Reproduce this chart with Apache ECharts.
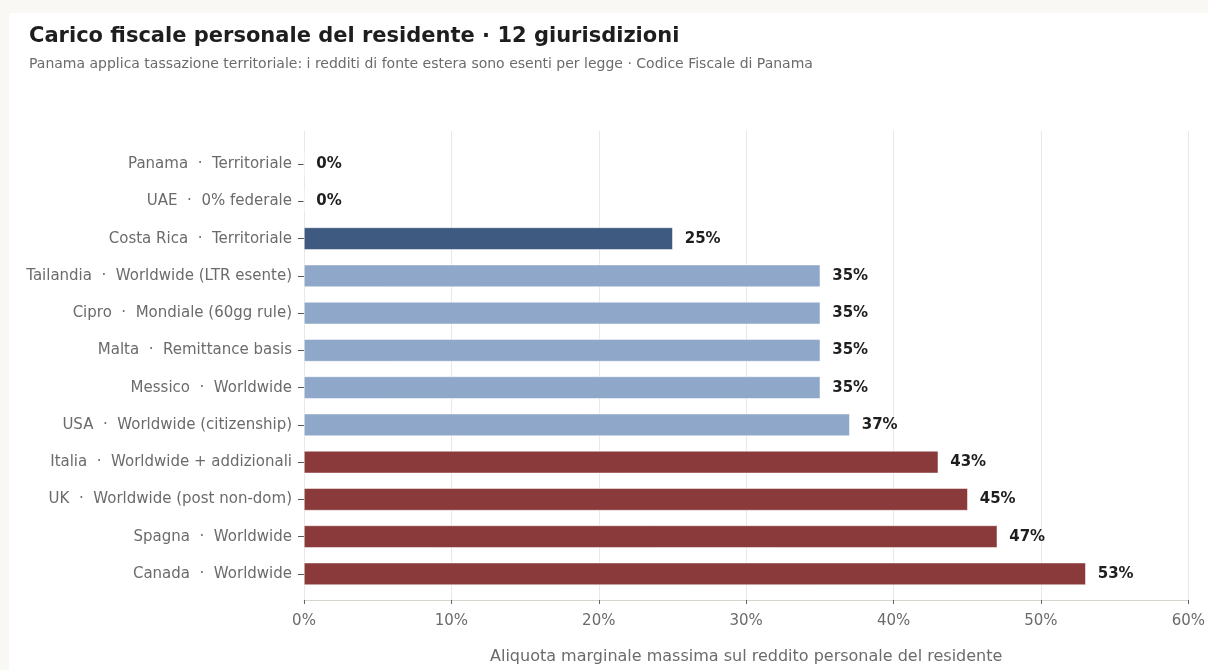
<!DOCTYPE html>
<html>
<head>
<meta charset="utf-8">
<script src="https://cdn.jsdelivr.net/npm/echarts@6/dist/echarts.min.js"></script>
<style>
  html, body { margin: 0; padding: 0; background: #faf8f4; }
  #card { position: absolute; left: 9px; top: 13px; right: 0; bottom: 0; background: #ffffff; }
  #chart { position: absolute; left: 0; top: 0; width: 1208px; height: 670px; }
</style>
</head>
<body>
<div id="card"></div>
<div id="chart"></div>
<script>
// Jurisdictions (top to bottom) and top marginal personal income tax rate (%)
const categories = [
  'Panama  ·  Territoriale',
  'UAE  ·  0% federale',
  'Costa Rica  ·  Territoriale',
  'Tailandia  ·  Worldwide (LTR esente)',
  'Cipro  ·  Mondiale (60gg rule)',
  'Malta  ·  Remittance basis',
  'Messico  ·  Worldwide',
  'USA  ·  Worldwide (citizenship)',
  'Italia  ·  Worldwide + addizionali',
  'UK  ·  Worldwide (post non-dom)',
  'Spagna  ·  Worldwide',
  'Canada  ·  Worldwide'
];
const rates = [0, 0, 25, 35, 35, 35, 35, 37, 43, 45, 47, 53];
// Regime group of each jurisdiction
const groups = ['territorial', 'territorial', 'territorial', 'mid', 'mid', 'mid', 'mid', 'mid', 'high', 'high', 'high', 'high'];
const xTicks = [0, 10, 20, 30, 40, 50, 60];

const groupColors = { territorial: '#3e5a80', mid: '#8fa8c9', high: '#8b3a3b' };
const FONT = 'DejaVu Sans';
const GRID_LEFT = 304, GRID_RIGHT = 19;

const chart = echarts.init(document.getElementById('chart'), null, { renderer: 'canvas' });

chart.setOption({
  backgroundColor: 'transparent',
  animation: false,
  textStyle: { fontFamily: FONT },
  title: [
    {
      text: 'Carico fiscale personale del residente · 12 giurisdizioni',
      left: 24, top: 21,
      textStyle: { fontFamily: FONT, fontSize: 21, fontWeight: 'bold', color: '#1e1e1e' }
    },
    {
      text: 'Panama applica tassazione territoriale: i redditi di fonte estera sono esenti per legge · Codice Fiscale di Panama',
      left: 24, top: 52,
      textStyle: { fontFamily: FONT, fontSize: 14, fontWeight: 'normal', color: '#6b6b6b' }
    }
  ],
  grid: [
    // frame with the value axis and the vertical grid lines
    { left: GRID_LEFT, right: GRID_RIGHT, top: 131, bottom: 64 },
    // bar area, inset from the frame
    { left: GRID_LEFT, right: GRID_RIGHT, top: 145.5, bottom: 77.5 }
  ],
  xAxis: [
    {
      gridIndex: 0, type: 'value', min: xTicks[0], max: xTicks[xTicks.length - 1], interval: 10,
      axisLine: { show: true, lineStyle: { color: '#d8d5cf', width: 1 } },
      axisTick: { show: true, length: 4, lineStyle: { color: '#666666' } },
      axisLabel: { formatter: '{value}%', color: '#6b6b6b', fontSize: 15, margin: 14, fontFamily: FONT },
      splitLine: { show: true, lineStyle: { color: '#ebe8e3', width: 1 } },
      name: 'Aliquota marginale massima sul reddito personale del residente',
      nameLocation: 'middle', nameGap: 49,
      nameTextStyle: { color: '#6b6b6b', fontSize: 16, fontFamily: FONT }
    },
    {
      gridIndex: 1, type: 'value', min: xTicks[0], max: xTicks[xTicks.length - 1], show: false
    }
  ],
  yAxis: [
    { gridIndex: 0, type: 'value', show: false, min: 0, max: 1 },
    {
      gridIndex: 1, type: 'category', inverse: true, data: categories,
      axisLine: { show: false },
      axisTick: { show: true, length: 6, alignWithLabel: true, lineStyle: { color: '#555555' } },
      axisLabel: { color: '#6b6b6b', fontSize: 15, margin: 12, fontFamily: FONT },
      splitLine: { show: false }
    }
  ],
  series: [
    {
      type: 'bar',
      xAxisIndex: 1, yAxisIndex: 1,
      barWidth: '60%',
      data: rates.map((v, i) => ({
        value: v,
        itemStyle: { color: groupColors[groups[i]], borderColor: '#ffffff', borderWidth: 0.5 }
      })),
      label: {
        show: true, position: 'right', distance: 12,
        formatter: p => p.value + '%',
        color: '#1e1e1e', fontSize: 15, fontWeight: 'bold', fontFamily: FONT
      }
    }
  ]
});
</script>
</body>
</html>
